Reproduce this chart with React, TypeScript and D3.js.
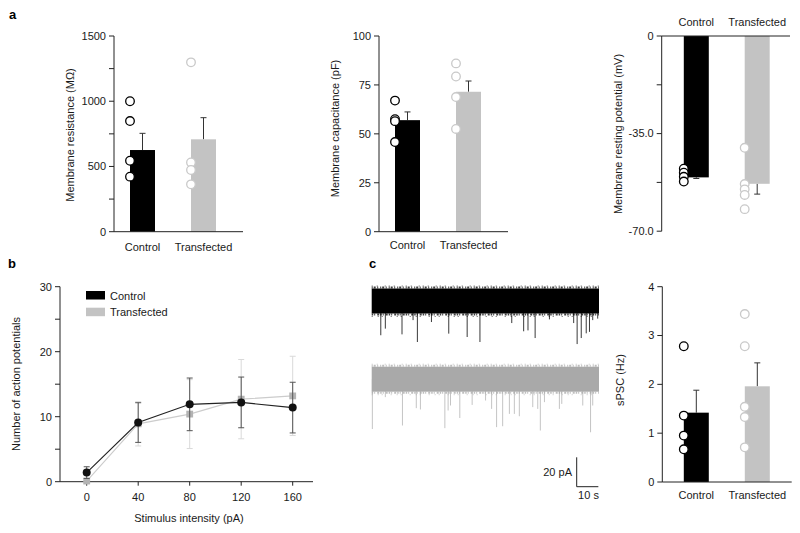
import React from "react";
import * as d3 from "d3";

const FONT = "'Liberation Sans', Arial, Helvetica, sans-serif";
const AX = "#222";
const TXT = "#1a1a1a";
const BLACK = "#000000";
const GREY = "#c3c3c3";
const PT_GREY = "#c9c9c9";

const categories = ["Control", "Transfected"];

// Panel a – membrane resistance (MΩ)
const resMeans = [626, 708];
const resErrs = [128, 166];
const resCtrlPts = [1000, 848, 544, 422];
const resTransPts = [1298, 531, 473, 363];
const resMajor = [0, 500, 1000, 1500];
const resMinor = [250, 750, 1250];

// Panel a – membrane capacitance (pF)
const capMeans = [57, 71.5];
const capErrs = [4.2, 5.5];
const capCtrlPts = [67, 57.5, 56.5, 45.8];
const capTransPts = [86, 79.3, 68.8, 52.5];
const capMajor = [0, 25, 50, 75, 100];

// Panel a – resting potential (mV)
const rmpMeans = [-50.7, -53];
const rmpErrs = [0.4, 3.7];
const rmpCtrlPts = [-47.6, -49, -50.5, -52.2];
const rmpTransPts = [-40.1, -53.1, -55, -57, -62.1];
const rmpMajor = [0, -35, -70];
const rmpMinor = [-17.5, -52.5];

// Panel b – action potentials
const stimulus = [0, 40, 80, 120, 160];
const apCtrlMean = [1.4, 9.1, 11.9, 12.2, 11.4];
const apCtrlErr = [0.9, 3.05, 4.05, 3.9, 3.9];
const apTransMean = [0.1, 8.9, 10.4, 12.7, 13.2];
const apTransErr = [0.35, 3.4, 5.3, 6.1, 6.1];
const apMajor = [0, 10, 20, 30];
const apMinor = [5, 15, 25];

// Panel c – sPSC frequency (Hz)
const spscMeans = [1.42, 1.96];
const spscErrs = [0.46, 0.48];
const spscCtrlPts = [2.78, 1.36, 0.95, 0.67];
const spscTransPts = [3.44, 2.78, 1.54, 1.33, 0.71];
const spscMajor = [0, 1, 2, 3, 4];

// Panel c – example traces: events (time s, amplitude pA)
const traceDuration = 105;
const traceNoise = 8.5; // half-band, pA
const ctrlEventTimes = [4.2, 6.3, 14.0, 19.1, 21.1, 27.6, 35.6, 44.1, 50.0, 64.7, 70.2, 72.2, 75.5, 82.1, 93.3, 94.9, 96.8, 99.1, 100.6, 102.1, 104.4];
const ctrlEventAmps = [23.3, 18.8, 22.7, 13.0, 27.9, 14.3, 22.2, 24.5, 27.9, 15.0, 20.6, 20.0, 25.2, 12.5, 15.0, 29.3, 25.2, 22.0, 21.0, 13.0, 12.0];
const transEventTimes = [0.3, 6.3, 14.2, 20.6, 22.5, 33.8, 35.3, 36.4, 40.7, 46.4, 52.6, 55.4, 57.7, 60.5, 63.6, 65.9, 68.2, 74.4, 76.7, 77.9, 79.8, 86.7, 87.8, 97.5, 101.1, 102.1];
const transEventAmps = [33.9, 12.2, 31.5, 19.7, 20.6, 33.3, 21.3, 17.9, 26.4, 17.5, 14.5, 20.2, 32.6, 32.0, 23.6, 23.6, 25.2, 19.0, 20.2, 34.9, 15.6, 20.2, 16.8, 17.9, 36.1, 17.9];
const scaleBarPA = 20;
const scaleBarS = 10;

type BarProps = {
  axisX: number;
  xEnd: number;
  yTop: number;
  yBottom: number;
  domain: [number, number];
  major: number[];
  minor?: number[];
  fmt: (v: number) => string;
  means: number[];
  errs: number[];
  ctrlPts: number[];
  transPts: number[];
  offsets: [number, number];
  ylabel: string;
  ylabelX: number;
  ylabelY: number;
  catY: number;
  axisAtTop?: boolean;
};

function BarPanel(p: BarProps) {
  const y = d3.scaleLinear().domain(p.domain).range([p.yBottom, p.yTop]);
  const x = d3.scalePoint<string>().domain(categories).range([p.axisX + p.offsets[0], p.axisX + p.offsets[1]]);
  const bw = 25;
  const colors = [BLACK, GREY];
  const ptColors = [BLACK, PT_GREY];
  const pts = [p.ctrlPts, p.transPts];
  const y0 = y(0);
  const xAxisY = p.axisAtTop ? y(0) : p.yBottom;
  return (
    <g fontFamily={FONT} fontSize={11} fill={TXT}>
      {categories.map((c, i) => {
        const cx = x(c)!;
        const ym = y(p.means[i]);
        const sign = p.means[i] >= 0 ? 1 : -1;
        const ye = y(p.means[i] + sign * p.errs[i]);
        return (
          <g key={c}>
            <line x1={cx} x2={cx} y1={ym} y2={ye} stroke="#333" strokeWidth={1} />
            <line x1={cx - 3} x2={cx + 3} y1={ye} y2={ye} stroke="#333" strokeWidth={1} />
            <rect x={cx - bw / 2} y={Math.min(y0, ym)} width={bw} height={Math.abs(ym - y0)} fill={colors[i]} />
          </g>
        );
      })}
      {categories.map((c, i) =>
        pts[i].map((v, j) => (
          <circle key={c + j} cx={x(c)! - bw / 2} cy={y(v)} r={4.3} fill="#fff" stroke={ptColors[i]} strokeWidth={1.3} />
        ))
      )}
      <line x1={p.axisX} x2={p.axisX} y1={p.yTop} y2={p.yBottom} stroke={AX} strokeWidth={1} />
      <line x1={p.axisX} x2={p.xEnd} y1={xAxisY} y2={xAxisY} stroke={AX} strokeWidth={1} />
      {p.major.map((t) => (
        <g key={"M" + t}>
          <line x1={p.axisX - 5} x2={p.axisX} y1={y(t)} y2={y(t)} stroke={AX} />
          <text x={p.axisX - 8} y={y(t)} dy="0.35em" textAnchor="end">
            {p.fmt(t)}
          </text>
        </g>
      ))}
      {(p.minor || []).map((t) => (
        <line key={"m" + t} x1={p.axisX - 5} x2={p.axisX} y1={y(t)} y2={y(t)} stroke={AX} />
      ))}
      {categories.map((c) => (
        <text key={"l" + c} x={x(c)!} y={p.catY} textAnchor="middle">
          {c}
        </text>
      ))}
      <text transform={`translate(${p.ylabelX},${p.ylabelY}) rotate(-90)`} textAnchor="middle">
        {p.ylabel}
      </text>
    </g>
  );
}

function LinePanel() {
  const x = d3.scaleLinear().domain([0, 160]).range([86.7, 292.7]);
  const y = d3.scaleLinear().domain([0, 30]).range([481.7, 286.7]);
  const line = d3
    .line<number>()
    .x((_, i) => x(stimulus[i]))
    .y((d) => y(d));
  const series = [
    { mean: apTransMean, err: apTransErr, line: "#cccccc", errC: "#d9d9d9", marker: "sq", fill: "#b3b3b3" },
    { mean: apCtrlMean, err: apCtrlErr, line: "#222", errC: "#555", marker: "ci", fill: "#111" },
  ];
  return (
    <g fontFamily={FONT} fontSize={11} fill={TXT}>
      <line x1={60} x2={60} y1={286.7} y2={481.7} stroke={AX} />
      <line x1={60} x2={313} y1={481.7} y2={481.7} stroke={AX} />
      {apMajor.map((t) => (
        <g key={"M" + t}>
          <line x1={55} x2={60} y1={y(t)} y2={y(t)} stroke={AX} />
          <text x={52} y={y(t)} dy="0.35em" textAnchor="end">
            {t}
          </text>
        </g>
      ))}
      {apMinor.map((t) => (
        <line key={"m" + t} x1={55} x2={60} y1={y(t)} y2={y(t)} stroke={AX} />
      ))}
      {stimulus.map((s) => (
        <g key={"x" + s}>
          <line x1={x(s)} x2={x(s)} y1={481.7} y2={485.7} stroke={AX} />
          <text x={x(s)} y={501} textAnchor="middle">
            {s}
          </text>
        </g>
      ))}
      {series.map((s, k) => (
        <g key={k}>
          <path d={line(s.mean)!} fill="none" stroke={s.line} strokeWidth={1.1} />
          {s.mean.map((m, i) => {
            const cx = x(stimulus[i]);
            const yt = y(m + s.err[i]);
            const yb = y(Math.max(0, m - s.err[i]));
            return (
              <g key={i}>
                <line x1={cx} x2={cx} y1={yt} y2={yb} stroke={s.errC} />
                <line x1={cx - 3} x2={cx + 3} y1={yt} y2={yt} stroke={s.errC} />
                <line x1={cx - 3} x2={cx + 3} y1={yb} y2={yb} stroke={s.errC} />
                {s.marker === "ci" ? (
                  <circle cx={cx} cy={y(m)} r={4} fill={s.fill} />
                ) : (
                  <rect x={cx - 3.4} y={y(m) - 3.4} width={6.8} height={6.8} fill={s.fill} />
                )}
              </g>
            );
          })}
        </g>
      ))}
      <rect x={86} y={291} width={19} height={8.5} fill={BLACK} />
      <text x={110} y={299.5}>Control</text>
      <rect x={86} y={307.7} width={19} height={8.5} fill={GREY} />
      <text x={110} y={316.2}>Transfected</text>
      <text transform="translate(20,384) rotate(-90)" textAnchor="middle">
        Number of action potentials
      </text>
      <text x={189} y={522} textAnchor="middle">
        Stimulus intensity (pA)
      </text>
    </g>
  );
}

function Trace({ cy, times, amps, band, spike }: { cy: number; times: number[]; amps: number[]; band: string; spike: string }) {
  const x = d3.scaleLinear().domain([0, traceDuration]).range([371.7, 599]);
  const y = d3.scaleLinear().domain([0, -20]).range([cy, cy + 29.4]);
  const top = y(traceNoise);
  const bot = y(-traceNoise);
  return (
    <g>
      {times.map((t, i) => (
        <line key={i} x1={x(t)} x2={x(t)} y1={cy} y2={y(-amps[i])} stroke={spike} strokeWidth={1} />
      ))}
      <rect x={x(0)} y={top} width={x(traceDuration) - x(0)} height={bot - top} fill={band} />
      {/* ragged noise edges */}
      <line x1={x(0)} x2={x(traceDuration)} y1={top - 1} y2={top - 1} stroke={band} strokeWidth={2} strokeDasharray="1 1 2 1.5 1 2" opacity={0.75} />
      <line x1={x(0)} x2={x(traceDuration)} y1={top - 2.5} y2={top - 2.5} stroke={band} strokeWidth={1} strokeDasharray="1 4 1 7 1 3" opacity={0.6} />
      <line x1={x(0)} x2={x(traceDuration)} y1={bot + 1} y2={bot + 1} stroke={band} strokeWidth={2} strokeDasharray="1.5 1 1 2 2 1" opacity={0.75} />
      <line x1={x(0)} x2={x(traceDuration)} y1={bot + 3} y2={bot + 3} stroke={band} strokeWidth={1} strokeDasharray="1 5 1 3 1 8" opacity={0.6} />
    </g>
  );
}

function TracePanel() {
  const pxPerPA = 29.4 / 20;
  const pxPerS = (599 - 371.7) / traceDuration;
  const bx = 576.7;
  const by = 486.7;
  return (
    <g fontFamily={FONT} fontSize={11} fill={TXT}>
      <Trace cy={301} times={ctrlEventTimes} amps={ctrlEventAmps} band="#000" spike="#3a3a3a" />
      <Trace cy={379.2} times={transEventTimes} amps={transEventAmps} band="#a9a9a9" spike="#c4c4c4" />
      <line x1={bx} x2={bx} y1={by - scaleBarPA * pxPerPA} y2={by} stroke={AX} />
      <line x1={bx} x2={bx + scaleBarS * pxPerS} y1={by} y2={by} stroke={AX} />
      <text x={572} y={476} textAnchor="end">
        {scaleBarPA} pA
      </text>
      <text x={588.5} y={499} textAnchor="middle">
        {scaleBarS} s
      </text>
    </g>
  );
}

export default function App() {
  return (
    <svg width={800} height={533} style={{ position: "absolute", left: 0, top: 0, background: "#fff" }}>
      <rect width={800} height={533} fill="#fff" />
      <g fontFamily={FONT} fontSize={13} fontWeight="bold" fill="#000">
        <text x={9} y={19}>a</text>
        <text x={8} y={268}>b</text>
        <text x={369} y={268}>c</text>
      </g>
      <BarPanel
        axisX={114}
        xEnd={243}
        yTop={36}
        yBottom={231.7}
        domain={[0, 1500]}
        major={resMajor}
        minor={resMinor}
        fmt={(v) => String(v)}
        means={resMeans}
        errs={resErrs}
        ctrlPts={resCtrlPts}
        transPts={resTransPts}
        offsets={[28.5, 89.5]}
        ylabel="Membrane resistance (MΩ)"
        ylabelX={74}
        ylabelY={135}
        catY={251}
      />
      <BarPanel
        axisX={379}
        xEnd={508}
        yTop={36}
        yBottom={231.7}
        domain={[0, 100]}
        major={capMajor}
        fmt={(v) => String(v)}
        means={capMeans}
        errs={capErrs}
        ctrlPts={capCtrlPts}
        transPts={capTransPts}
        offsets={[28.5, 89.5]}
        ylabel="Membrane capacitance (pF)"
        ylabelX={338.5}
        ylabelY={128.5}
        catY={248.5}
      />
      <BarPanel
        axisX={661.7}
        xEnd={790}
        yTop={36}
        yBottom={231.2}
        domain={[-70, 0]}
        major={rmpMajor}
        minor={rmpMinor}
        fmt={(v) => (v === 0 ? "0" : v.toFixed(1))}
        means={rmpMeans}
        errs={rmpErrs}
        ctrlPts={rmpCtrlPts}
        transPts={rmpTransPts}
        offsets={[34.6, 95.5]}
        ylabel="Membrane resting potential (mV)"
        ylabelX={622}
        ylabelY={134}
        catY={26}
        axisAtTop
      />
      <LinePanel />
      <TracePanel />
      <BarPanel
        axisX={662.3}
        xEnd={791.7}
        yTop={286.7}
        yBottom={482}
        domain={[0, 4]}
        major={spscMajor}
        fmt={(v) => String(v)}
        means={spscMeans}
        errs={spscErrs}
        ctrlPts={spscCtrlPts}
        transPts={spscTransPts}
        offsets={[34, 95]}
        ylabel="sPSC (Hz)"
        ylabelX={624}
        ylabelY={380}
        catY={499}
      />
    </svg>
  );
}
